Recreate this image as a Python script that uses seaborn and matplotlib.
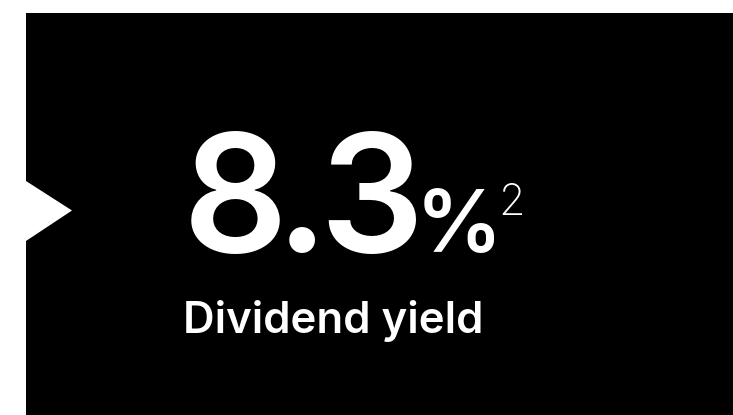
import matplotlib
matplotlib.use("Agg")
import matplotlib.pyplot as plt
from matplotlib.patches import Rectangle, Polygon
import seaborn as sns

# data
kpi_value = ["8.3"]
kpi_unit = ["%"]
kpi_footnote = ["2"]
kpi_label = ["Dividend yield"]

sns.set_theme(style="white")
plt.rcParams['font.family'] = ['Inter', 'DejaVu Sans']

W, H = 733, 415
fig = plt.figure(figsize=(W / 100, H / 100), dpi=100)
fig.patch.set_facecolor("white")
ax = fig.add_axes([0, 0, 1, 1])
ax.set_xlim(0, W)
ax.set_ylim(H, 0)
ax.axis("off")

ax.add_patch(Rectangle((26, 13), W - 26, H - 13, facecolor="black", edgecolor="none"))
ax.add_patch(Polygon([(26, 181), (72, 210.5), (26, 241)], closed=True,
                     facecolor="white", edgecolor="none"))

# big number, glyph by glyph for tight tracking
glyph_centers = [235.5, 301.5, 371]
for ch, cx in zip(kpi_value[0], glyph_centers):
    ax.text(cx, 252, ch, color="white", fontsize=118, fontweight="semibold",
            ha="center", va="baseline")
ax.text(459, 252, kpi_unit[0], color="white", fontsize=62, fontweight="semibold",
        ha="center", va="baseline")
ax.text(511.5, 215, kpi_footnote[0], color="white", fontsize=31, fontweight="light",
        ha="center", va="baseline")
ax.text(183, 333, kpi_label[0], color="white", fontsize=31.5, fontweight="semibold",
        ha="left", va="baseline")

fig.savefig("out.png", dpi=100, facecolor="white")
